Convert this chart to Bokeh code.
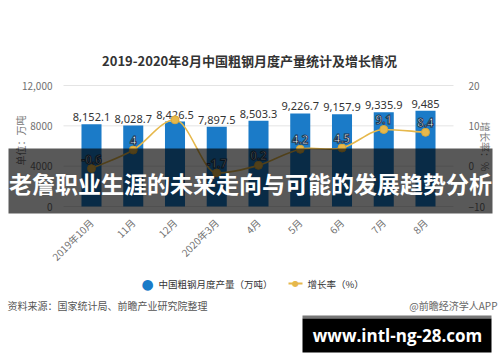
import math
from bokeh.plotting import figure
from bokeh.models import Range1d, LinearAxis, FixedTicker, Label, BoxAnnotation, ColumnDataSource
from bokeh.core.properties import value
from bokeh.embed import file_html
from bokeh.resources import INLINE

# ---------------- data ----------------
months = ["2019年10月", "11月", "12月", "2020年3月", "4月", "5月", "6月", "7月", "8月"]
output = [8152.1, 8028.7, 8426.5, 7897.5, 8503.3, 9226.7, 9157.9, 9335.9, 9485.0]
growth = [-0.6, 4.0, 11.5, -1.7, 0.2, 4.2, 4.5, 9.1, 8.4]
growth_label_visible = [True, True, False, True, True, True, True, True, True]
left_ticks = [0, 4000, 8000, 12000]
left_tick_labels = ["0", "4000", "8000", "12,000"]
right_ticks = [-10, 0, 10, 20]

title_text = "2019-2020年8月中国粗钢月度产量统计及增长情况"
left_axis_title = "单位：万吨"
right_axis_title = "增长率：%"
legend_bar = "中国粗钢月度产量（万吨）"
legend_line = "增长率（%）"
source_text = "资料来源：国家统计局、前瞻产业研究院整理"
credit_text = "@前瞻经济学人APP"
banner_text = "老詹职业生涯的未来走向与可能的发展趋势分析"
site_text = "www.intl-ng-28.com"

BLUE = "#1b7bc8"
GOLD = "#e6b84c"
CJK = "Noto Sans CJK SC"

# ---------------- layout (pixels) ----------------
W, H = 500, 362
FRAME_L, FRAME_R, FRAME_T, FRAME_B = 63, 453, 85, 206   # plot area in page pixels
X0, PITCH = 91, 41.75                                   # first category centre, spacing

xs = list(range(len(months)))
x_start = (0 - X0) / PITCH
x_end = (W - X0) / PITCH
ky = (left_ticks[-1] - left_ticks[0]) / (FRAME_B - FRAME_T)
y_start = left_ticks[0] - (H - FRAME_B) * ky
y_end = y_start + H * ky
kr = (right_ticks[-1] - right_ticks[0]) / (FRAME_B - FRAME_T)
r_start = right_ticks[0] - (H - FRAME_B) * kr
r_end = r_start + H * kr
x_left_edge = (FRAME_L - X0) / PITCH
x_right_edge = (FRAME_R - X0) / PITCH

p = figure(width=W, height=H, output_backend="svg", toolbar_location=None,
           x_range=Range1d(x_start, x_end), y_range=Range1d(y_start, y_end),
           x_axis_location=None, y_axis_location=None,
           min_border=0, min_border_left=0, min_border_right=0,
           min_border_top=0, min_border_bottom=0)
p.outline_line_color = None
p.background_fill_color = "white"
p.border_fill_color = "white"
p.grid.visible = False
p.extra_y_ranges = {"right": Range1d(r_start, r_end)}

ax_l = LinearAxis(ticker=FixedTicker(ticks=left_ticks), fixed_location=x_left_edge,
                  major_label_overrides={t: l for t, l in zip(left_ticks, left_tick_labels)})
ax_r = LinearAxis(y_range_name="right", ticker=FixedTicker(ticks=right_ticks),
                  fixed_location=x_right_edge)
ax_b = LinearAxis(ticker=FixedTicker(ticks=xs), fixed_location=left_ticks[0],
                  major_label_overrides={i: m for i, m in zip(xs, months)},
                  major_label_orientation=math.pi / 4)
p.add_layout(ax_l, "left")
p.add_layout(ax_r, "right")
p.add_layout(ax_b, "below")

for ax in [ax_l, ax_r, ax_b]:
    ax.axis_line_color = None
    ax.major_tick_line_color = None
    ax.minor_tick_line_color = None
    ax.major_label_text_color = "#707070"
    ax.major_label_text_font = CJK
    ax.major_label_text_font_size = "10px"
ax_l.major_label_standoff = 5
ax_r.major_label_standoff = 9
ax_b.major_label_standoff = 8

# horizontal grid lines at the left-axis ticks
p.segment(x0=[x_left_edge] * len(left_ticks), x1=[x_right_edge] * len(left_ticks),
          y0=left_ticks, y1=left_ticks, line_color="#e4e4e4", line_width=1)

src = ColumnDataSource(dict(x=xs, out=output, g=growth,
                            out_lab=[f"{v:,.1f}".rstrip("0").rstrip(".") for v in output]))
p.vbar(x="x", top="out", width=0.48, source=src, fill_color=BLUE, line_color=None)
p.text(x="x", y="out", text="out_lab", source=src, text_align="center", text_baseline="bottom",
       y_offset=-3, text_font=value("Noto Sans"), text_font_size="11px", text_color="#333333")

# smooth line through the growth points (bezier segments between data points)
n = len(growth)
tang = []
for i in range(n):
    if i == 0:
        d = growth[1] - growth[0]
    elif i == n - 1:
        d = growth[-1] - growth[-2]
    else:
        a = growth[i] - growth[i - 1]
        b = growth[i + 1] - growth[i]
        d = 0.0 if a * b <= 0 else (growth[i + 1] - growth[i - 1]) / 2
    tang.append(d)
bz = dict(x0=xs[:-1], y0=growth[:-1], x1=xs[1:], y1=growth[1:],
          cx0=[x + 1 / 3 for x in xs[:-1]], cy0=[growth[i] + tang[i] / 3 for i in range(n - 1)],
          cx1=[x - 1 / 3 for x in xs[1:]], cy1=[growth[i + 1] - tang[i + 1] / 3 for i in range(n - 1)])
p.bezier(source=ColumnDataSource(bz), x0="x0", y0="y0", x1="x1", y1="y1",
         cx0="cx0", cy0="cy0", cx1="cx1", cy1="cy1",
         y_range_name="right", line_color=GOLD, line_width=1.6)
p.scatter(x="x", y="g", source=src, y_range_name="right", size=8, fill_color=GOLD, line_color="#d9a93a")

gl = dict(x=[x for x, v in zip(xs, growth_label_visible) if v],
          y=[g for g, v in zip(growth, growth_label_visible) if v],
          t=[f"{g:g}" for g, v in zip(growth, growth_label_visible) if v])
p.text(x="x", y="y", text="t", source=ColumnDataSource(gl), y_range_name="right",
       text_align="center", text_baseline="bottom", y_offset=-5,
       text_font=value("Noto Sans"), text_font_size="11.5px", text_font_style="bold",
       text_color="white", text_outline_color="#1c3550")

# ---- page-positioned elements (screen units; frame == whole canvas) ----
def sx(px):
    return px

def sy(py):
    return H - py

def lab(text, px, py, size, color, align="left", style="normal", font=CJK, angle=0.0):
    p.add_layout(Label(x=sx(px), y=sy(py), x_units="screen", y_units="screen", text=text,
                       text_font=font, text_font_size=f"{size}px", text_color=color,
                       text_align=align, text_baseline="middle", text_font_style=style,
                       angle=angle))

def box(x0, x1, y0, y1, color, alpha=1.0):
    p.add_layout(BoxAnnotation(left=sx(x0), right=sx(x1), top=sy(y0), bottom=sy(y1),
                               left_units="screen", right_units="screen",
                               top_units="screen", bottom_units="screen",
                               fill_color=color, fill_alpha=alpha, line_color=None,
                               level="annotation"))

lab(title_text, 249, 60, 13, "#333333", align="center", style="bold")
lab(left_axis_title, 20, 140, 10, "#777777", align="center", angle=math.pi / 2)
lab(right_axis_title, 485, 146, 10, "#777777", align="center", angle=-math.pi / 2)

# legend
lab("●", 147, 283, 14, BLUE, align="center", font="DejaVu Sans")
lab(legend_bar, 158, 283, 9.5, "#333333")
box(288, 302, 282, 284, GOLD)
lab("●", 295, 283, 8, GOLD, align="center", font="DejaVu Sans")
lab(legend_line, 307, 283, 9.5, "#333333")

lab(source_text, 7, 305, 10, "#555555")
lab(credit_text, 497, 305, 10, "#666666", align="right")

# dark banner overlay
box(8, 492, 148, 213, "black", 0.65)
lab(banner_text, 250, 182, 23, "white", align="center", style="bold")

# site box
box(302, 491, 315, 318, "#777777")
box(302, 491, 318, 352, "black")
lab(site_text, 397, 335, 17, "white", align="center", style="bold", font="Open Sans")

open("out.html", "w").write(file_html(p, INLINE))
